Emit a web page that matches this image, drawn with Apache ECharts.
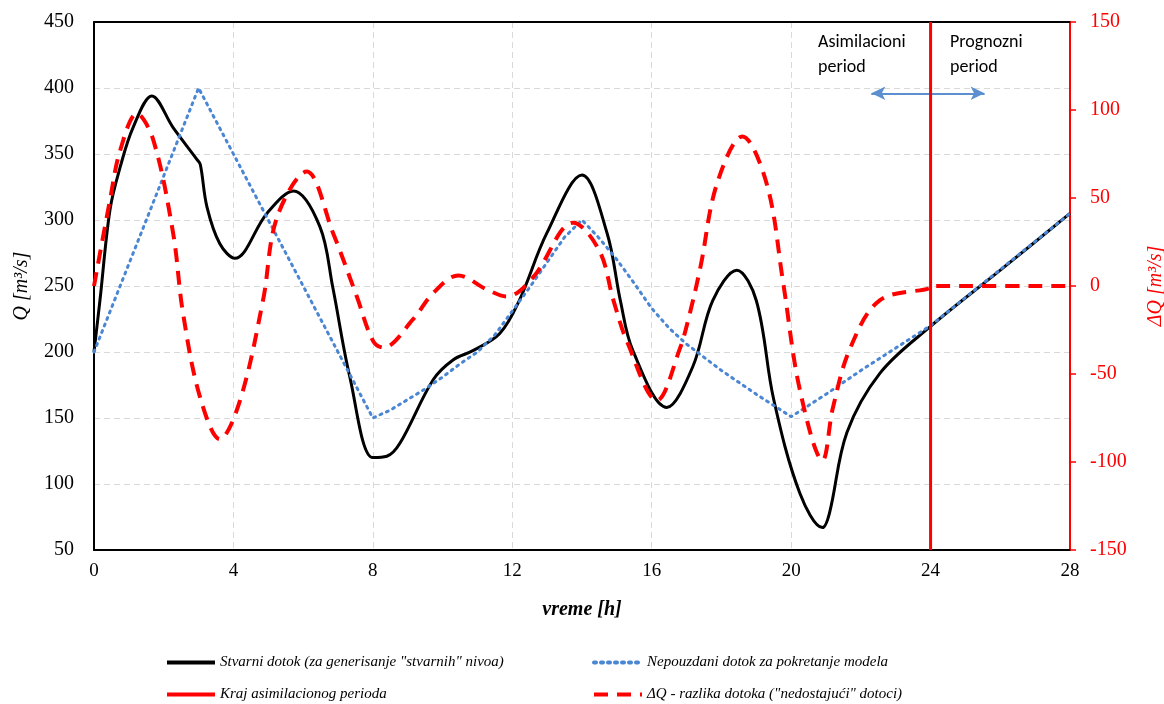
<!DOCTYPE html>
<html>
<head>
<meta charset="utf-8">
<script src="https://cdn.jsdelivr.net/npm/echarts@6/dist/echarts.min.js"></script>
<style>html,body{margin:0;padding:0;background:#fff;}#c{width:1164px;height:704px;}</style>
</head>
<body>
<div id="c"></div>
<script>
// x axis ticks
const xTicks = [0, 4, 8, 12, 16, 20, 24, 28];

// Stvarni dotok (actual inflow) - left axis
const hActual = [0, 0.17, 0.46, 0.75, 1.12, 1.66, 2.27, 2.95, 3.05, 3.24, 3.61, 4.04, 4.96, 5.72, 6.48, 6.85, 7.34, 8.0, 8.4, 8.78, 9.73, 10.3, 10.87, 11.64, 12.2, 12.99, 14.0, 14.72, 15.1, 15.46, 16.43, 17.18, 17.75, 18.44, 19.0, 19.5, 20.25, 20.9, 21.1, 21.6, 22.55, 23.98, 26, 28];
const qActual = [200, 239, 308, 340, 370, 394, 370, 346, 342, 310, 282, 271, 305, 322, 295, 249, 181, 120, 121, 131, 179, 194, 201, 214, 239, 290, 334, 290, 239, 201, 158, 189, 239, 262, 239, 164, 93, 67, 78, 139, 184, 219, 262, 305];

// Nepouzdani dotok (unreliable inflow) - left axis
const hUnrel = [0, 3, 8, 8.5, 9, 9.5, 10, 10.5, 11, 11.5, 12, 12.5, 13, 13.5, 14, 14.5, 15, 15.5, 16, 16.5, 17, 18, 19, 20, 21, 22, 23, 24, 28];
const qUnrel = [200, 400, 150, 156, 164, 172, 181, 191, 200, 213, 231, 249, 268, 287, 300, 286, 270, 252, 233, 218, 206, 186, 168, 151, 168, 186, 203, 220, 305];

// ΔQ - razlika dotoka - right axis
const hDelta = [0, 0.46, 0.75, 1.23, 1.7, 2.27, 2.55, 3.04, 3.61, 4.19, 4.85, 5.25, 6.1, 6.86, 7.54, 8.0, 8.3, 9.15, 9.73, 10.45, 11.27, 11.84, 12.6, 13.75, 14.5, 14.9, 15.3, 16.15, 16.8, 17.1, 17.4, 17.87, 18.6, 19.3, 19.77, 20.25, 20.9, 21.2, 21.7, 22.55, 23.99, 24, 28];
const dDelta = [0, 49, 77, 98, 83, 30, -15, -63, -87, -65, -8, 39, 65, 30, -6, -31, -35, -19, -4, 6, -2, -6, 5, 36, 20, -8, -32, -65, -36, -15, 11, 58, 85, 58, 2, -59, -99, -69, -35, -8, -1, 0, 0];

// Kraj asimilacionog perioda (vertical line at 24 h) - right axis
const hEnd = [24, 24];
const dEnd = [-150, 150];

// period arrow (left axis units)
const arrowH = [22.3, 25.55];
const arrowQ = 396;

const names = {
  actual: 'Stvarni dotok (za generisanje "stvarnih" nivoa)',
  unrel: 'Nepouzdani dotok za pokretanje modela',
  end: 'Kraj asimilacionog perioda',
  delta: 'ΔQ - razlika dotoka ("nedostajući" dotoci)'
};

const zip = (a, b) => a.map((v, i) => [v, b[i]]);
const serif = '"Liberation Serif", "DejaVu Serif", serif';
const sans = '"Carlito", "Liberation Sans", "Open Sans", sans-serif';

const legendText = { fontFamily: serif, fontStyle: 'italic', fontSize: 15, color: '#000' };
function leg(name, left, top) {
  return {
    data: [name], left: left, top: top, itemWidth: 48, itemHeight: 14, itemGap: 4,
    textStyle: legendText, selectedMode: false, padding: 0,
    itemStyle: { opacity: 0 },
    lineStyle: { width: 4 }
  };
}

const gridSplit = { show: true, lineStyle: { color: '#d9d9d9', type: [6, 4], width: 1 } };

const chart = echarts.init(document.getElementById('c'));
chart.setOption({
  animation: false,
  backgroundColor: '#fff',
  grid: { left: 94, right: 94, top: 22, bottom: 154, show: false, outerBoundsMode: 'none', containLabel: false },
  legend: [
    leg(names.actual, 165, 655),
    leg(names.unrel, 592, 655),
    leg(names.end, 165, 687),
    leg(names.delta, 592, 687)
  ],
  xAxis: [
    {
      type: 'value', min: 0, max: 28, interval: 4, position: 'bottom',
      name: 'vreme [h]', nameLocation: 'middle', nameGap: 50,
      nameTextStyle: { fontFamily: serif, fontStyle: 'italic', fontWeight: 'bold', fontSize: 20, color: '#000' },
      axisLine: { show: true, onZero: false, lineStyle: { color: '#000', width: 2 } },
      axisTick: { show: false },
      axisLabel: { fontFamily: serif, fontSize: 19, color: '#000', margin: 12 },
      splitLine: gridSplit
    },
    {
      type: 'value', min: 0, max: 28, interval: 4, position: 'top',
      axisLine: { show: true, onZero: false, lineStyle: { color: '#000', width: 2 } },
      axisTick: { show: false }, axisLabel: { show: false }, splitLine: { show: false }
    }
  ],
  yAxis: [
    {
      type: 'value', min: 50, max: 450, interval: 50,
      name: 'Q [m³/s]', nameLocation: 'middle', nameGap: 62, nameRotate: 90,
      nameTextStyle: { fontFamily: serif, fontStyle: 'italic', fontSize: 20, color: '#000' },
      axisLine: { show: true, onZero: false, lineStyle: { color: '#000', width: 2 } },
      axisTick: { show: false },
      axisLabel: { fontFamily: serif, fontSize: 20, color: '#000', margin: 20 },
      splitLine: gridSplit
    },
    {
      type: 'value', min: -150, max: 150, interval: 50, position: 'right',
      name: 'ΔQ [m³/s]', nameLocation: 'middle', nameGap: 76, nameRotate: 90,
      nameTextStyle: { fontFamily: serif, fontStyle: 'italic', fontSize: 20, color: '#ff0000' },
      axisLine: { show: true, onZero: false, lineStyle: { color: '#ff0000', width: 2 } },
      axisTick: { show: true, inside: false, length: 6, lineStyle: { color: '#ff0000', width: 1.5 } },
      axisLabel: { fontFamily: serif, fontSize: 20, color: '#ff0000', margin: 20 },
      splitLine: { show: false }
    }
  ],
  series: [
    {
      name: names.unrel, type: 'line', yAxisIndex: 0, data: zip(hUnrel, qUnrel),
      symbol: 'none', smooth: false, z: 3,
      lineStyle: { color: '#4a86d4', width: 3, type: [2, 5], cap: 'round' },
      itemStyle: { color: '#4a86d4' }
    },
    {
      name: names.actual, type: 'line', yAxisIndex: 0, data: zip(hActual, qActual),
      symbol: 'none', smooth: 0.35, z: 2,
      lineStyle: { color: '#000', width: 3 },
      itemStyle: { color: '#000' }
    },
    {
      name: names.delta, type: 'line', yAxisIndex: 1, data: zip(hDelta, dDelta),
      symbol: 'none', smooth: 0.35, z: 4,
      lineStyle: { color: '#ff0000', width: 4, type: [14, 9] },
      itemStyle: { color: '#ff0000' }
    },
    {
      name: names.end, type: 'line', yAxisIndex: 1, data: zip(hEnd, dEnd),
      symbol: 'none', z: 5,
      lineStyle: { color: '#ff0000', width: 3 },
      itemStyle: { color: '#ff0000' }
    },
    {
      name: 'arrow', type: 'line', yAxisIndex: 0, data: [], symbol: 'none',
      markLine: {
        silent: true, symbol: ['arrow', 'arrow'], symbolSize: [10, 14],
        label: { show: false },
        lineStyle: { color: '#5b8fcf', width: 2, type: 'solid' },
        data: [[{ coord: [arrowH[0], arrowQ] }, { coord: [arrowH[1], arrowQ] }]]
      }
    }
  ],
  graphic: [
    { type: 'text', left: 818, top: 30, style: { text: 'Asimilacioni\nperiod', fontFamily: sans, fontSize: 18, lineHeight: 25, fill: '#000' } },
    { type: 'text', left: 950, top: 30, style: { text: 'Prognozni\nperiod', fontFamily: sans, fontSize: 18, lineHeight: 25, fill: '#000' } }
  ]
});
</script>
</body>
</html>
